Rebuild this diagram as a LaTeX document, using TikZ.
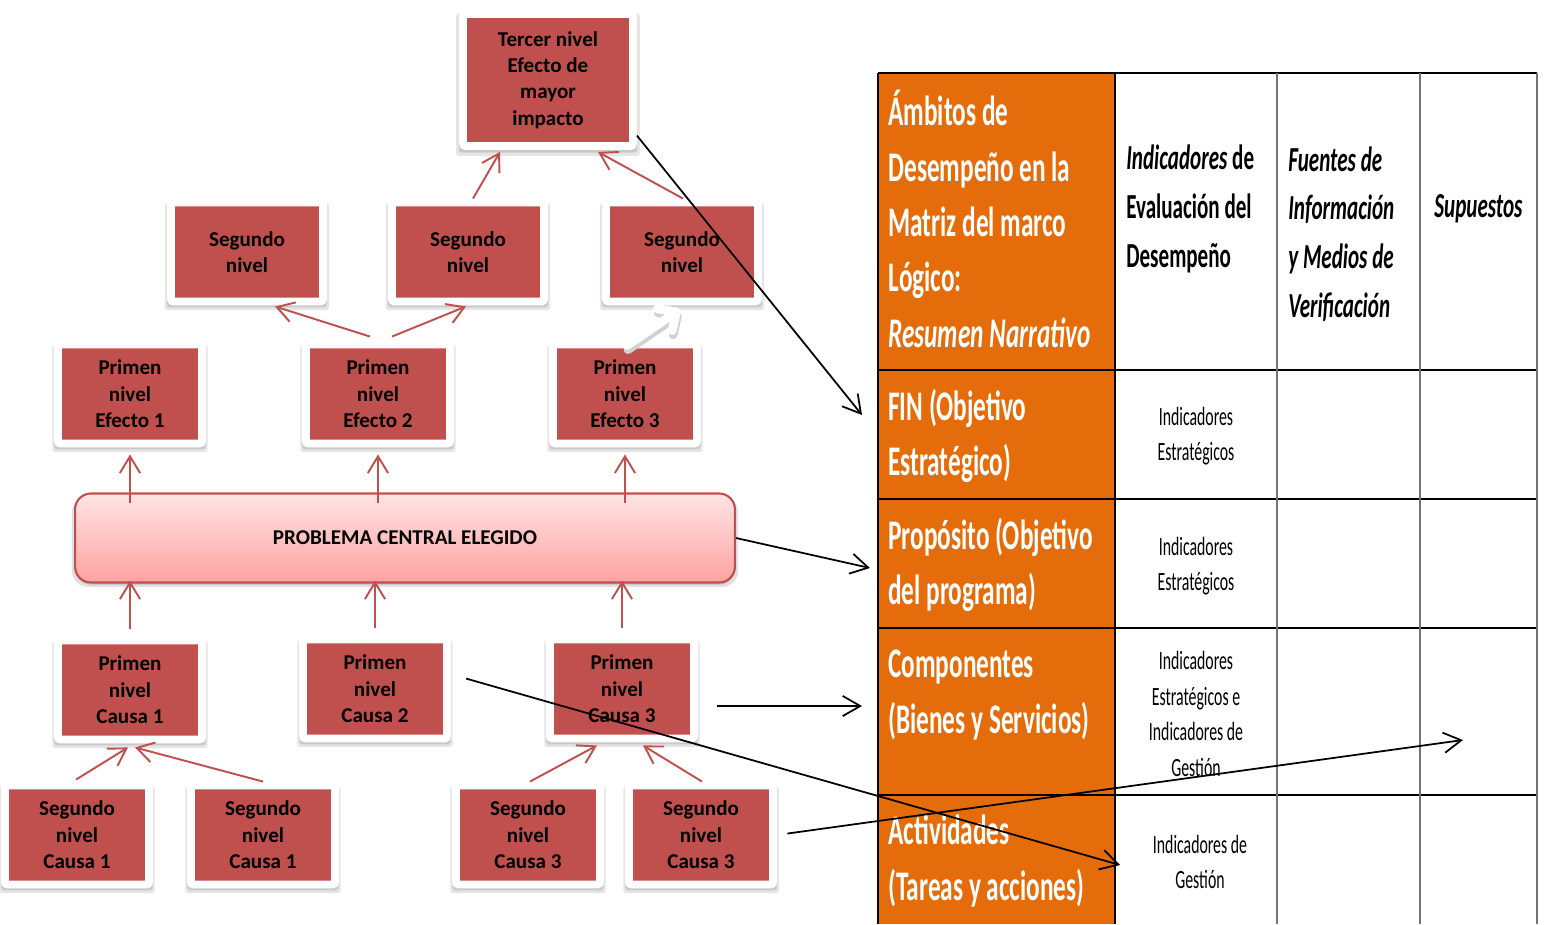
\documentclass[tikz,border=0pt]{standalone}
\usepackage{fontspec}
\setmainfont{Carlito}
\newfontfamily\narrowfont[FakeStretch=0.6]{Carlito}
\usetikzlibrary{arrows.meta, positioning, calc, shadows}
\definecolor{boxred}{RGB}{192,80,77}
\definecolor{orng}{RGB}{228,108,10}
\definecolor{pinktop}{RGB}{255,228,228}
\definecolor{pinkbot}{RGB}{255,162,162}

\begin{document}
\begin{tikzpicture}[x=0.02cm, y=-0.02cm,
  nivel/.style={draw=white, line width=4.5pt, fill=boxred, rounded corners=1.5pt, inner sep=0pt,
    minimum width=2.88cm, minimum height=1.98cm, align=center,
    font=\bfseries\fontsize{12}{15}\selectfont,
    general shadow={shadow scale=1.08, shadow yshift=-2.5pt, opacity=0.1, fill=black},
    general shadow={shadow scale=1.05, shadow yshift=-1.8pt, opacity=0.12, fill=black}},
  problema/.style={draw=boxred, line width=1.2pt, rounded corners=9pt, top color=pinktop, bottom color=pinkbot,
    minimum width=13.2cm, minimum height=1.78cm, font=\bfseries\fontsize{12}{14.7}\selectfont,
    general shadow={shadow scale=1.01, shadow yshift=-2.2pt, opacity=0.12, fill=black},
    general shadow={shadow yshift=-1.2pt, opacity=0.15, fill=black}},
  redarr/.style={draw=boxred, line width=1.1pt, -{Straight Barb[length=9.5pt,width=11.5pt]}},
  blkarr/.style={draw=black, line width=1pt, -{Straight Barb[length=10pt,width=11.5pt]}},
  hdr/.style={text=white, align=left, inner sep=0pt, font=\narrowfont\bfseries\fontsize{24}{31.5}\selectfont},
  colhd/.style={align=left, inner sep=0pt, font=\narrowfont\bfseries\fontsize{20}{27.8}\selectfont},
  colhdit/.style={colhd, font=\narrowfont\bfseries\itshape\fontsize{20}{27.8}\selectfont},
  cell/.style={align=center, inner sep=0pt, font=\narrowfont\fontsize{15}{20.2}\selectfont}]

  \useasboundingbox (0,0) rectangle (1546,924);

  % matriz de marco logico
  \fill[orng] (878,73) rectangle (1115,924);
  \foreach \y in {73,370,499,628,795}
    \draw[black, line width=1.3pt] (878,\y) -- (1537,\y);
  \foreach \x in {878,1115}
    \draw[black, line width=1pt] (\x,73) -- (\x,924);
  \foreach \x in {1277,1420,1537}
    \draw[black!55, line width=0.8pt] (\x,73) -- (\x,924);

  \node[hdr, anchor=west] (ambito) at (888,219) {Ámbitos de\\Desempeño en la\\Matriz del marco\\Lógico:\\\textit{Resumen Narrativo}};
  \node[hdr, anchor=west] (fin) at (888,436) {FIN (Objetivo\\Estratégico)};
  \node[hdr, anchor=west] (prop) at (888,565) {Propósito (Objetivo\\del programa)};
  \node[hdr, anchor=west] (comp) at (888,695) {Componentes\\(Bienes y Servicios)};
  \node[hdr, anchor=west] (act) at (888,861) {Actividades\\(Tareas y acciones)};

  \node[colhd, anchor=west] (indic) at (1126,209) {\textit{Indicadores} de\\Evaluación del\\Desempeño};
  \node[colhdit, anchor=west] (fuentes) at (1288,234) {Fuentes de\\Información\\y Medios de\\Verificación};
  \node[colhdit, anchor=west] (supuestos) at (1434,209) {Supuestos};

  \node[cell] (ifin) at (1196,436) {Indicadores\\Estratégicos};
  \node[cell] (iprop) at (1196,566) {Indicadores\\Estratégicos};
  \node[cell] (icomp) at (1196,714) {Indicadores\\Estratégicos e\\Indicadores de\\Gestión};
  \node[cell] (iact) at (1200,862) {Indicadores de\\Gestión};

  % arbol de problemas
  \node[nivel, minimum width=3.4cm, minimum height=2.64cm] (t) at (548,80) {Tercer nivel\\Efecto de\\mayor\\impacto};
  \node[nivel, minimum width=3.04cm] (s1) at (247,252) {Segundo\\nivel};
  \node[nivel, minimum width=3.04cm] (s2) at (468,252) {Segundo\\nivel};
  \node[nivel, minimum width=3.04cm] (s3) at (682,252) {Segundo\\nivel};
  \node[nivel] (e1) at (130,394) {Primen\\nivel\\Efecto 1};
  \node[nivel] (e2) at (378,394) {Primen\\nivel\\Efecto 2};
  \node[nivel] (e3) at (625,394) {Primen\\nivel\\Efecto 3};
  \node[problema] (pc) at (405,538) {PROBLEMA CENTRAL ELEGIDO};
  \node[nivel] (c1) at (130,690) {Primen\\nivel\\Causa 1};
  \node[nivel] (c2) at (375,689) {Primen\\nivel\\Causa 2};
  \node[nivel] (c3) at (622,689) {Primen\\nivel\\Causa 3};
  \node[nivel] (sc1a) at (77,835) {Segundo\\nivel\\Causa 1};
  \node[nivel] (sc1b) at (263,835) {Segundo\\nivel\\Causa 1};
  \node[nivel] (sc3a) at (528,835) {Segundo\\nivel\\Causa 3};
  \node[nivel] (sc3b) at (701,835) {Segundo\\nivel\\Causa 3};

  \draw[redarr] ($(e2.north)+(-8,-4)$) -- ($(s1.south)+(28,1)$);
  \draw[redarr] ($(e2.north)+(14,-4)$) -- ($(s2.south)+(-2,1)$);
  \draw[redarr] ($(s2.north)+(5,0)$) -- ($(t.south)+(-48,2)$);
  \draw[redarr] ($(s3.north)+(1,0)$) -- ($(t.south)+(50,2)$);
  \draw[black!18, line width=5pt, line cap=round, -{Straight Barb[round,length=8pt,width=15pt]}]
    ($(e3.north)+(3,9)$) -- ($(s3.south)+(-1,8)$);
  \draw[white, line width=5pt, line cap=round, -{Straight Barb[round,length=8pt,width=15pt]}]
    ($(e3.north)+(2,5)$) -- ($(s3.south)+(-2,4)$);
  \foreach \n in {e1,e2,e3}
    \draw[redarr, shorten <=-6pt, shorten >=4pt] (pc.north -| \n) -- (\n.south);
  \foreach \n in {c1,c2,c3}
    \draw[redarr, shorten <=4.5pt, shorten >=-1.7pt] (\n.north) -- (\n.north |- pc.south);
  \draw[redarr] ($(sc1a.north)+(-1,-2)$) -- ($(c1.south)+(-2,4)$);
  \draw[redarr] (sc1b.north) -- ($(c1.south)+(5,4)$);
  \draw[redarr] ($(sc3a.north)+(2,0)$) -- ($(c3.south)+(-25,3)$);
  \draw[redarr] ($(sc3b.north)+(1,0)$) -- ($(c3.south)+(21,3)$);

  % flechas hacia la matriz
  \coordinate (finIn) at (862,415);
  \coordinate (propIn) at (870,568);
  \coordinate (compIn) at (862,706);
  \coordinate (actIn) at (1120,865);
  \coordinate (supIn) at (1463,740);
  \draw[blkarr] (t.-32) -- (finIn);
  \draw[blkarr] (pc.east) -- (propIn);
  \draw[blkarr, shorten <=11pt] (c3.east |- compIn) -- (compIn);
  \draw[blkarr, shorten <=9pt] (c2.11) -- (actIn);
  \draw[blkarr, shorten <=6pt] (sc3b.east) -- (supIn);
\end{tikzpicture}
\end{document}
